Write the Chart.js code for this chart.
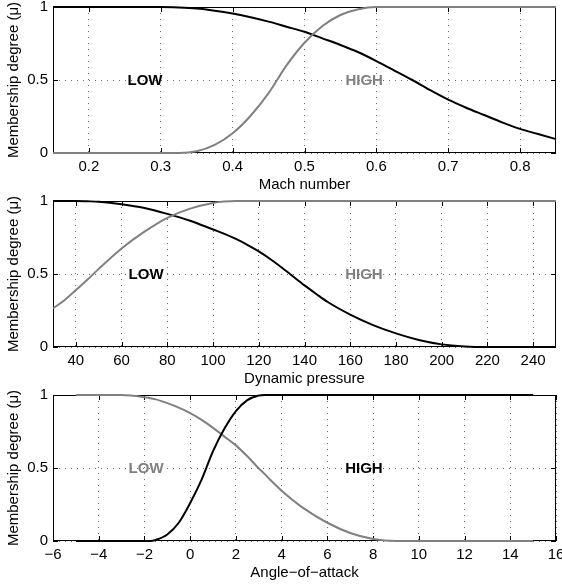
<!DOCTYPE html>
<html>
<head>
<meta charset="utf-8">
<script src="https://cdn.jsdelivr.net/npm/chart.js@4.4.1/dist/chart.umd.min.js"></script>
<style>
  html, body { margin: 0; padding: 0; background: #fff; }
  #wrap { position: relative; width: 562px; height: 586px; overflow: hidden; }
  canvas { position: absolute; left: 0; }
</style>
</head>
<body>
<div id="wrap">
  <canvas id="mach" width="562" height="194" style="top:0"></canvas>
  <canvas id="pressure" width="562" height="194" style="top:194px"></canvas>
  <canvas id="angle" width="562" height="194" style="top:388px"></canvas>
</div>
<script>
'use strict';

// values
const machX    = [0.15, 0.2, 0.25, 0.3, 0.325, 0.35, 0.375, 0.4, 0.425, 0.45, 0.475, 0.5, 0.525, 0.55, 0.575, 0.6, 0.625, 0.65, 0.675, 0.7, 0.725, 0.75, 0.775, 0.8, 0.825, 0.85];
const machLow  = [1, 1, 1, 1, 0.997, 0.99, 0.975, 0.955, 0.93, 0.9, 0.865, 0.83, 0.785, 0.74, 0.69, 0.63, 0.565, 0.5, 0.43, 0.365, 0.31, 0.26, 0.21, 0.165, 0.13, 0.095];
const machHigh = [0, 0, 0, 0, 0, 0.012, 0.055, 0.135, 0.255, 0.41, 0.6, 0.755, 0.87, 0.945, 0.985, 1, 1, 1, 1, 1, 1, 1, 1, 1, 1, 1];
const machRange = [0.15, 0.85];
const machTicks = [0.2, 0.3, 0.4, 0.5, 0.6, 0.7, 0.8];
const machLabelX = [0.278, 0.583];

const pressureX    = [30, 35, 40, 45, 50, 60, 70, 80, 90, 100, 105, 110, 115, 120, 125, 130, 135, 140, 145, 150, 160, 170, 180, 190, 200, 210, 220, 230, 240, 250];
const pressureLow  = [1, 1, 1, 0.998, 0.995, 0.978, 0.952, 0.912, 0.865, 0.805, 0.775, 0.74, 0.7, 0.655, 0.603, 0.545, 0.483, 0.422, 0.365, 0.31, 0.222, 0.15, 0.093, 0.048, 0.018, 0.004, 0, 0, 0, 0];
const pressureHigh = [0.265, 0.32, 0.39, 0.46, 0.535, 0.675, 0.79, 0.885, 0.948, 0.987, 0.996, 1, 1, 1, 1, 1, 1, 1, 1, 1, 1, 1, 1, 1, 1, 1, 1, 1, 1, 1];
const pressureRange = [30, 250];
const pressureTicks = [40, 60, 80, 100, 120, 140, 160, 180, 200, 220, 240];
const pressureLabelX = [70.7, 166];

const angleX    = [-5, -4, -3, -2, -1.75, -1.5, -1, -0.5, 0, 0.5, 1, 1.5, 2, 2.5, 3, 3.25, 3.5, 4, 5, 6, 7, 8, 9, 10, 11, 12, 13, 14, 15];
const angleLow  = [1, 1, 1, 0.985, 0.978, 0.97, 0.944, 0.913, 0.876, 0.83, 0.775, 0.715, 0.655, 0.58, 0.497, 0.46, 0.42, 0.345, 0.22, 0.125, 0.055, 0.014, 0, 0, 0, 0, 0, 0, 0];
const angleHigh = [0, 0, 0, 0, 0, 0.008, 0.045, 0.125, 0.26, 0.42, 0.615, 0.77, 0.89, 0.965, 0.997, 1, 1, 1, 1, 1, 1, 1, 1, 1, 1, 1, 1, 1, 1];
const angleRange = [-6, 16];
const angleTicks = [-6, -4, -2, 0, 2, 4, 6, 8, 10, 12, 14, 16];
const angleLabelX = [-1.93, 7.6];

const yTicks = [0, 0.5, 1];
const yTitle = 'Membership degree (\u03bc)';

const BLACK = '#000000';
const GRAY = '#808080';
const FONT = "'Liberation Sans', Arial, Helvetica, sans-serif";

Chart.defaults.font.family = FONT;
Chart.defaults.font.size = 15;
Chart.defaults.color = '#000';

function minusSign(v) {
    return String(v).replace('-', '\u2212');
}

// matlab style box, inward ticks and the LOW / HIGH words
const matlabAxes = {
    id: 'matlabAxes',
    beforeDatasetsDraw(chart) {
        const { ctx, chartArea: a, scales: { x, y } } = chart;
        ctx.save();
        ctx.strokeStyle = '#000';
        ctx.lineWidth = 1;
        ctx.strokeRect(a.left + 0.5, a.top + 0.5, a.right - a.left - 1, a.bottom - a.top - 1);
        ctx.beginPath();
        x.ticks.forEach(t => {
            const px = Math.round(x.getPixelForValue(t.value)) + 0.5;
            ctx.moveTo(px, a.bottom); ctx.lineTo(px, a.bottom - 5);
            ctx.moveTo(px, a.top); ctx.lineTo(px, a.top + 5);
        });
        y.ticks.forEach(t => {
            const py = Math.round(y.getPixelForValue(t.value)) + 0.5;
            ctx.moveTo(a.left, py); ctx.lineTo(a.left + 5, py);
            ctx.moveTo(a.right, py); ctx.lineTo(a.right - 5, py);
        });
        ctx.stroke();
        ctx.restore();
    },
    afterDatasetsDraw(chart, args, opts) {
        const { ctx, scales: { x, y } } = chart;
        ctx.save();
        ctx.font = 'bold 15px ' + FONT;
        ctx.textAlign = 'center';
        ctx.textBaseline = 'middle';
        (opts.labels || []).forEach(l => {
            ctx.fillStyle = l.color;
            ctx.fillText(l.text, x.getPixelForValue(l.x), y.getPixelForValue(0.5) + 1);
        });
        ctx.restore();
    }
};

function makePanel({ id, xs, low, high, lowColor, highColor, range, ticks, title, labelX }) {
    const points = vals => xs.map((v, i) => ({ x: v, y: vals[i] }));
    const line = (label, vals, color) => ({
        label,
        data: points(vals),
        borderColor: color,
        borderWidth: 2,
        pointRadius: 0,
        cubicInterpolationMode: 'monotone',
        clip: false,
    });

    return new Chart(document.getElementById(id), {
        type: 'line',
        data: {
            datasets: [
                line('HIGH', high, highColor),
                line('LOW', low, lowColor),
            ]
        },
        options: {
            responsive: false,
            animation: false,
            events: [],
            layout: { padding: { top: 7, right: 6, left: 0, bottom: 0 } },
            plugins: {
                legend: { display: false },
                tooltip: { enabled: false },
                matlabAxes: {
                    labels: [
                        { text: 'LOW', x: labelX[0], color: lowColor },
                        { text: 'HIGH', x: labelX[1], color: highColor },
                    ]
                }
            },
            scales: {
                x: {
                    type: 'linear',
                    min: range[0],
                    max: range[1],
                    afterBuildTicks: s => { s.ticks = ticks.map(v => ({ value: v })); },
                    afterFit: s => { s.height = 41; s.paddingLeft = 0; s.paddingRight = 0; },
                    grid: { color: '#6e6e6e', lineWidth: 1, drawTicks: false },
                    border: { display: false, dash: [1, 5] },
                    ticks: { padding: 5, maxRotation: 0, autoSkip: false, callback: v => minusSign(v) },
                    title: { display: true, text: title, padding: { top: 0, bottom: 0 } },
                },
                y: {
                    min: 0,
                    max: 1,
                    afterBuildTicks: s => { s.ticks = yTicks.map(v => ({ value: v })); },
                    afterFit: s => { s.width = 53; s.paddingTop = 0; s.paddingBottom = 0; },
                    grid: { color: '#6e6e6e', lineWidth: 1, drawTicks: false },
                    border: { display: false, dash: [1, 5] },
                    ticks: { padding: 5, callback: v => String(v) },
                    title: { display: true, text: yTitle, padding: { top: 5, bottom: 0 } },
                }
            }
        },
        plugins: [matlabAxes]
    });
}

makePanel({
    id: 'mach', xs: machX, low: machLow, high: machHigh,
    lowColor: BLACK, highColor: GRAY,
    range: machRange, ticks: machTicks, title: 'Mach number', labelX: machLabelX
});
makePanel({
    id: 'pressure', xs: pressureX, low: pressureLow, high: pressureHigh,
    lowColor: BLACK, highColor: GRAY,
    range: pressureRange, ticks: pressureTicks, title: 'Dynamic pressure', labelX: pressureLabelX
});
makePanel({
    id: 'angle', xs: angleX, low: angleLow, high: angleHigh,
    lowColor: GRAY, highColor: BLACK,
    range: angleRange, ticks: angleTicks, title: 'Angle\u2212of\u2212attack', labelX: angleLabelX
});
</script>
</body>
</html>
